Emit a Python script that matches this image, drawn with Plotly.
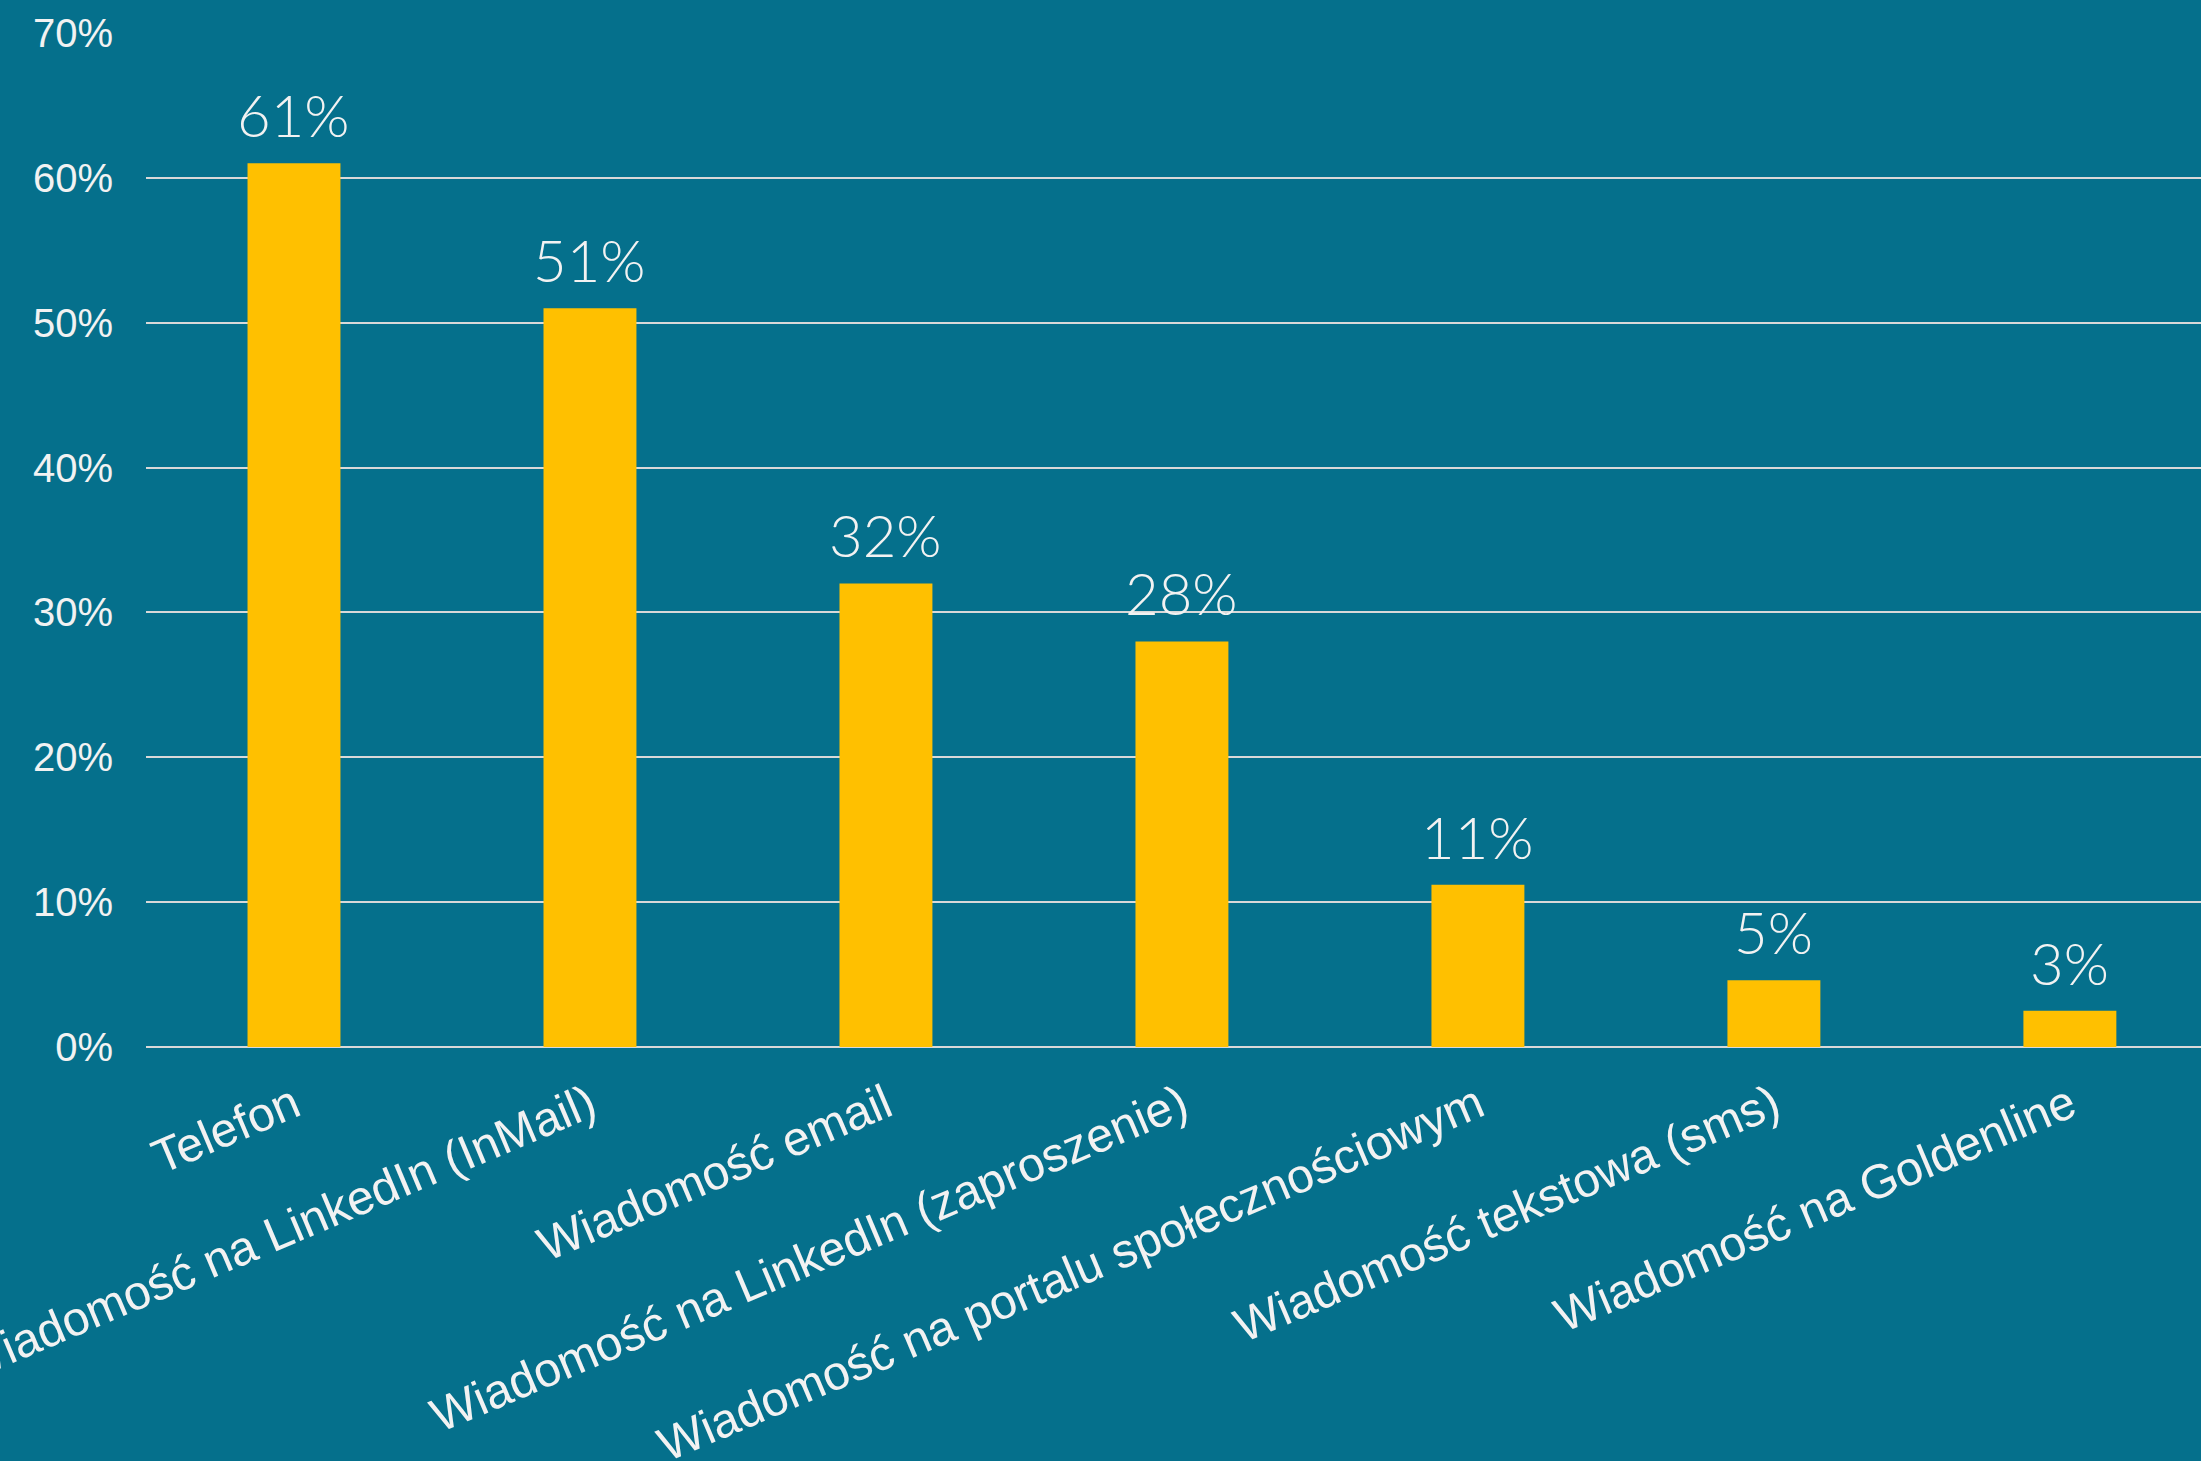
import plotly.graph_objects as go

categories = [
    "Telefon",
    "Wiadomość na LinkedIn (InMail)",
    "Wiadomość email",
    "Wiadomość na LinkedIn (zaproszenie)",
    "Wiadomość na portalu społecznościowym",
    "Wiadomość tekstowa (sms)",
    "Wiadomość na Goldenline",
]
values = [0.61, 0.51, 0.32, 0.28, 0.112, 0.046, 0.025]
value_labels = ["61%", "51%", "32%", "28%", "11%", "5%", "3%"]
y_ticks = [0, 0.1, 0.2, 0.3, 0.4, 0.5, 0.6, 0.7]

BG = "#05708C"
BAR = "#FFC000"
GRID = "#D9D9D9"
TXT = "#F2F2F2"

fig = go.Figure(
    go.Bar(
        x=categories,
        y=values,
        marker=dict(color=BAR, line=dict(width=0)),
        hoverinfo="x+y",
    )
)

for cat, val, lab in zip(categories, values, value_labels):
    fig.add_annotation(
        x=cat,
        y=val,
        text=lab,
        showarrow=False,
        yanchor="bottom",
        xanchor="center",
        yshift=12,
        font=dict(family="Lato", size=58, color=TXT, weight=300),
    )

fig.update_layout(
    width=2201,
    height=1461,
    paper_bgcolor=BG,
    plot_bgcolor=BG,
    margin=dict(l=146, r=0, t=33, b=414, autoexpand=False),
    bargap=0.686,
    showlegend=False,
    xaxis=dict(
        type="category",
        range=[-0.5, 6.443],
        tickangle=-23,
        tickfont=dict(family="Liberation Sans, Arial", size=48, color=TXT),
        showgrid=False,
        showline=False,
        ticks="",
        automargin=False,
        ticklabelstandoff=20,
    ),
    yaxis=dict(
        range=[0, 0.7],
        tickvals=y_ticks,
        tickformat=".0%",
        showgrid=True,
        gridcolor=GRID,
        gridwidth=2,
        zeroline=True,
        zerolinecolor=GRID,
        zerolinewidth=2,
        tickfont=dict(family="Liberation Sans, Arial", size=40, color=TXT),
        ticks="",
        automargin=False,
        ticklabelstandoff=32,
    ),
)

fig.write_html(
    "out.html",
    config={"displayModeBar": False},
    post_script="document.body.style.margin='0';document.body.style.background='%s';" % BG,
)
